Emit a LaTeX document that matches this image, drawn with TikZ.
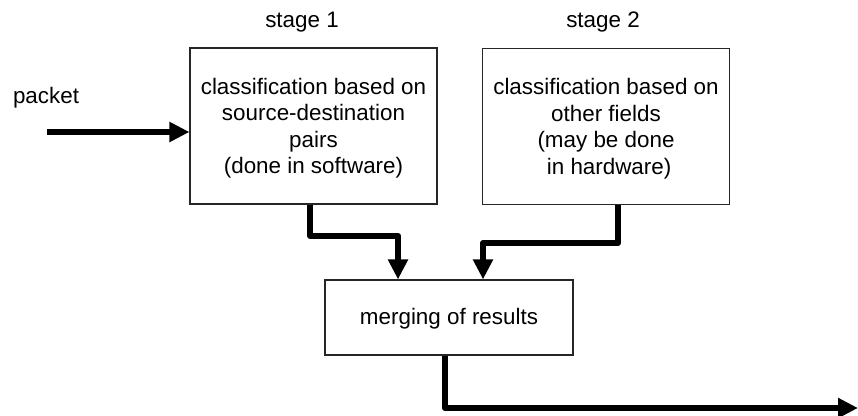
\documentclass[tikz,border=0pt]{standalone}
\usepackage{fontspec}
\setmainfont{Liberation Sans}
\usetikzlibrary{arrows.meta}
\begin{document}
\begin{tikzpicture}[x=1pt,y=-1pt,
  every node/.style={font=\fontsize{22.4}{26.4}\selectfont, inner sep=0pt},
  stagebox/.style={draw=black!85, line width=1.1pt, align=center,
    minimum width=247pt, minimum height=156pt},
  mergebox/.style={draw=black!85, line width=1.1pt, align=center,
    minimum width=248pt, minimum height=75pt},
  conn/.style={line width=6pt, line join=round,
    -{Triangle[length=20pt,width=19pt]}}]
  \useasboundingbox (0,0) rectangle (858,415);

  % processing stages (the strut lowers each text block a little)
  \node[stagebox] (b1) at (313.5,126) {\rule{0pt}{20.5pt}classification based on\\source-destination\\pairs\\(done in software)};
  \node[stagebox] (b2) at (606,126.5) {\rule{0pt}{20.5pt}classification based on\\other fields\\(may be done\\\ in hardware)};
  \node[mergebox] (m) at (449,317.5) {\rule{0pt}{19pt}merging of results};

  % captions
  \node (s1) at (302,22.5) {stage 1};
  \node (s2) at (603,22.5) {stage 2};
  \node (pk) at (46,98) {packet};

  % incoming packet
  \coordinate (in) at (47,132);
  \draw[conn] (in) -- (in -| b1.west);

  % stage results into the merge step
  \draw[conn] ([xshift=-3.5pt]b1.south) |- ++(88,31) -- ([xshift=-51pt]m.north);
  \draw[conn] ([xshift=12pt]b2.south) |- ++(-135,38) -- ([xshift=34pt]m.north);

  % merged output
  \coordinate (out) at (858,408);
  \draw[conn] ([xshift=-4pt]m.south) |- (out);
\end{tikzpicture}
\end{document}
